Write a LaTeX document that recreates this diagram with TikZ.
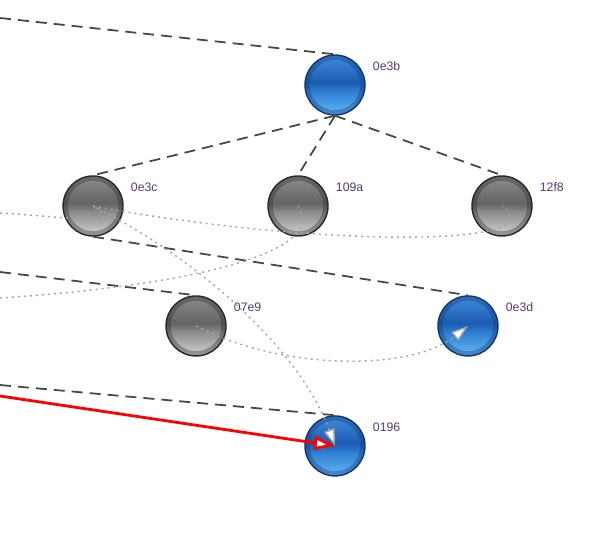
\documentclass[tikz,border=0pt]{standalone}
\usepackage{fontspec}
\setsansfont{Liberation Sans}
\usepackage{xcolor}
\usepackage{tikz}
\usetikzlibrary{arrows.meta, positioning}

\definecolor{bluetop}{RGB}{62,140,222}
\definecolor{bluemid}{RGB}{28,92,176}
\definecolor{bluelow}{RGB}{45,125,210}
\definecolor{bluebot}{RGB}{95,178,242}
\definecolor{bluerim}{RGB}{18,55,110}
\definecolor{greytop}{RGB}{140,140,140}
\definecolor{greymid}{RGB}{100,100,100}
\definecolor{greylow}{RGB}{140,140,140}
\definecolor{greybot}{RGB}{205,205,205}
\definecolor{greyrim}{RGB}{40,40,40}
\definecolor{dashgrey}{RGB}{70,70,70}
\definecolor{dotgrey}{RGB}{165,165,165}
\definecolor{idtext}{RGB}{88,58,120}

\pgfdeclareverticalshading{blueglass}{100bp}{color(0bp)=(bluebot); color(27bp)=(bluebot); color(45bp)=(bluelow); color(52bp)=(bluemid); color(75bp)=(bluetop); color(100bp)=(bluetop)}
\pgfdeclareverticalshading{greyglass}{100bp}{color(0bp)=(greybot); color(27bp)=(greybot); color(45bp)=(greylow); color(52bp)=(greymid); color(75bp)=(greytop); color(100bp)=(greytop)}

\begin{document}
\begin{tikzpicture}[
    x=0.02cm, y=0.02cm,
    on grid,
    bubble/.style={circle, draw=#1, line width=0.8pt, minimum size=1.2cm, inner sep=0pt,
        path picture={\draw[#1, opacity=0.35, line width=2.5pt] (path picture bounding box.center) circle (0.55cm);}},
    bluebub/.style={bubble=bluerim, shading=blueglass},
    greybub/.style={bubble=greyrim, shading=greyglass},
    lbl/.style={font=\sffamily\fontsize{7}{8}\selectfont, text=idtext},
    idlabel/.style={label={[lbl, anchor=west, yshift=0.38cm, label distance=0.02cm]east:#1}},
    treeedge/.style={draw=dashgrey, line width=1pt, dash pattern=on 0.22cm off 0.14cm},
    linkedge/.style={draw=dotgrey, line width=0.8pt, dash pattern=on 0.04cm off 0.08cm},
    linkarrow/.style={-{Triangle[fill=white, length=0.34cm, width=0.22cm]}},
    hotedge/.style={draw=red, line width=1.6pt, -{Triangle[fill=white, length=0.42cm, width=0.28cm]}},
]
    \fill[white] (0,0) rectangle (614,-556);
    \useasboundingbox (0,0) rectangle (614,-556);

    \node[bluebub, idlabel=0e3b] (n0e3b) at (335,-85) {};
    \node[greybub, idlabel=109a, below left=2.42cm and 0.74cm of n0e3b] (n109a) {};
    \node[greybub, idlabel=0e3c, left=4.1cm of n109a] (n0e3c) {};
    \node[greybub, idlabel=12f8, right=4.08cm of n109a] (n12f8) {};
    \node[greybub, idlabel=07e9, below right=2.4cm and 2.06cm of n0e3c] (n07e9) {};
    \node[bluebub, idlabel=0e3d, right=5.44cm of n07e9] (n0e3d) {};
    \node[bluebub, idlabel=0196, below=7.22cm of n0e3b] (n0196) {};

    % loose ends at the left border
    \coordinate (inA) at (0,-18);
    \coordinate (inB) at (0,-213);
    \coordinate (inC) at (0,-272);
    \coordinate (inD) at (0,-298);
    \coordinate (inE) at (0,-385);
    \coordinate (inF) at (0,-396);

    % tree edges
    \draw[treeedge] (inA) -- (n0e3b.north);
    \draw[treeedge] (n0e3b.south) -- (n0e3c.north);
    \draw[treeedge] (n0e3b.south) -- (n109a.north);
    \draw[treeedge] (n0e3b.south) -- (n12f8.north);
    \draw[treeedge] (n0e3c.south) -- (n0e3d.north);
    \draw[treeedge] (inC) -- (n07e9.north);
    \draw[treeedge] (inE) -- (n0196.north);

    % cross links
    \draw[linkedge] (inB) .. controls (60,-216) and (130,-228) .. (n0e3c.center);
    \draw[linkedge] (n0e3c.center) .. controls (300,-245) and (560,-250) .. (n12f8.center);
    \draw[linkedge] (inD) .. controls (200,-285) and (330,-250) .. (n109a.center);
    \draw[linkedge, linkarrow] (n0e3c.center) .. controls (200,-260) and (300,-350) .. (n0196.center);
    \draw[linkedge, linkarrow] (n07e9.center) .. controls (280,-370) and (410,-372) .. (n0e3d.center);

    \draw[hotedge] (inF) -- (n0196.center);
\end{tikzpicture}
\end{document}
